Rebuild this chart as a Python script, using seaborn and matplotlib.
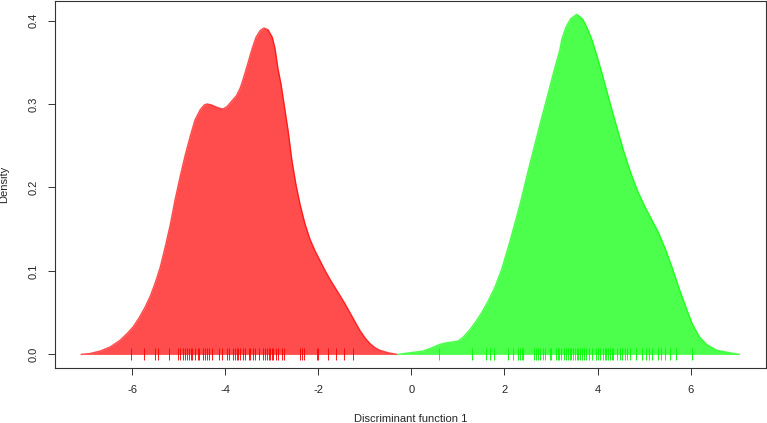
import numpy as np
import matplotlib
matplotlib.use("Agg")
import matplotlib.pyplot as plt
import pandas as pd
import seaborn as sns

# density curves (x, density)
red_x = [-7.10, -6.91, -6.69, -6.47, -6.26, -6.11, -5.98, -5.85, -5.72, -5.61,
         -5.51, -5.40, -5.29, -5.18, -5.08, -4.97, -4.86, -4.75, -4.65, -4.54,
         -4.45, -4.39, -4.30, -4.22, -4.13, -4.05, -3.96, -3.87, -3.76, -3.68,
         -3.62, -3.55, -3.43, -3.34, -3.25, -3.17, -3.08, -2.99, -2.93, -2.87,
         -2.80, -2.74, -2.65, -2.57, -2.48, -2.39, -2.29, -2.18, -2.07, -1.96,
         -1.86, -1.75, -1.64, -1.54, -1.43, -1.32, -1.21, -1.11, -1.00, -0.89,
         -0.78, -0.68, -0.50, -0.31]
red_y = [0.000, 0.001, 0.004, 0.009, 0.017, 0.025, 0.033, 0.044, 0.057, 0.070,
         0.085, 0.104, 0.129, 0.156, 0.185, 0.213, 0.239, 0.262, 0.281, 0.293,
         0.299, 0.300, 0.299, 0.297, 0.295, 0.294, 0.297, 0.303, 0.310, 0.319,
         0.329, 0.342, 0.365, 0.380, 0.388, 0.391, 0.389, 0.380, 0.366, 0.343,
         0.323, 0.301, 0.268, 0.233, 0.203, 0.179, 0.157, 0.138, 0.124, 0.112,
         0.101, 0.090, 0.080, 0.071, 0.061, 0.050, 0.039, 0.029, 0.020, 0.013,
         0.008, 0.005, 0.002, 0.000]

green_x = [-0.29, -0.03, 0.25, 0.44, 0.61, 0.76, 0.89, 1.00, 1.08, 1.17,
           1.26, 1.38, 1.51, 1.64, 1.79, 1.94, 2.11, 2.33, 2.54, 2.76,
           2.93, 3.08, 3.19, 3.23, 3.32, 3.42, 3.55, 3.68, 3.77, 3.88,
           3.98, 4.11, 4.26, 4.41, 4.56, 4.71, 4.86, 5.01, 5.16, 5.31,
           5.46, 5.61, 5.76, 5.91, 6.04, 6.19, 6.34, 6.56, 6.84, 7.05]
green_y = [0.000, 0.002, 0.004, 0.008, 0.012, 0.014, 0.015, 0.016, 0.019, 0.024,
           0.030, 0.039, 0.050, 0.063, 0.080, 0.102, 0.134, 0.179, 0.227, 0.275,
           0.311, 0.343, 0.365, 0.377, 0.392, 0.402, 0.4075, 0.402, 0.392, 0.377,
           0.359, 0.334, 0.303, 0.273, 0.244, 0.218, 0.196, 0.178, 0.162, 0.146,
           0.126, 0.103, 0.078, 0.055, 0.036, 0.021, 0.012, 0.005, 0.002, 0.000]

# individual scores (rug)
red_rug = [-6.03, -5.74, -5.51, -5.44, -5.20, -5.01, -4.97, -4.91, -4.86, -4.83,
           -4.77, -4.74, -4.72, -4.65, -4.59, -4.56, -4.47, -4.43, -4.40, -4.34,
           -4.29, -4.13, -4.07, -3.97, -3.91, -3.83, -3.79, -3.75, -3.72, -3.68,
           -3.63, -3.57, -3.50, -3.47, -3.41, -3.36, -3.27, -3.20, -3.15, -3.11,
           -3.07, -3.04, -3.00, -2.97, -2.92, -2.86, -2.79, -2.74, -2.39, -2.36,
           -2.31, -2.04, -2.00, -1.79, -1.63, -1.44, -1.25]
green_rug = [0.60, 1.31, 1.61, 1.69, 1.78, 2.08, 2.19, 2.29, 2.33, 2.37,
             2.40, 2.63, 2.67, 2.72, 2.77, 2.82, 2.87, 2.97, 3.01, 3.10,
             3.15, 3.17, 3.22, 3.27, 3.32, 3.37, 3.40, 3.44, 3.47, 3.51,
             3.55, 3.58, 3.62, 3.67, 3.71, 3.75, 3.81, 3.87, 3.96, 4.01,
             4.06, 4.12, 4.15, 4.19, 4.22, 4.26, 4.30, 4.33, 4.41, 4.48,
             4.53, 4.58, 4.63, 4.69, 4.82, 4.96, 5.05, 5.11, 5.18, 5.30,
             5.37, 5.44, 5.55, 5.68, 6.02]

groups = {"red": (red_x, red_y, red_rug, "#ff0000"),
          "green": (green_x, green_y, green_rug, "#00ff00")}

sns.set_style("ticks")
plt.rcParams["font.family"] = ["Liberation Sans", "DejaVu Sans"]
plt.rcParams["axes.unicode_minus"] = False

fig = plt.figure(figsize=(7.67, 4.23), dpi=100)
ax = fig.add_axes([0.0717, 0.130, 0.927, 0.8676])

for name, (cx, cy, rug, col) in groups.items():
    curve = pd.DataFrame({"x": cx, "y": cy})
    ax.fill_between(curve["x"], curve["y"], 0, color=col, alpha=0.7, lw=0)
    sns.lineplot(data=curve, x="x", y="y", ax=ax, color=col, alpha=0.7,
                 lw=1, sort=False, estimator=None)
    pts = pd.DataFrame({"x": rug, "y": np.zeros(len(rug))})
    sns.scatterplot(data=pts, x="x", y="y", ax=ax, marker="|", color=col,
                    s=64, linewidth=0.7, alpha=0.9)

ax.set_xlim(-7.66, 7.62)
ax.set_ylim(-0.0163, 0.4234)
ax.set_xticks([-6, -4, -2, 0, 2, 4, 6])
ax.set_yticks([0.0, 0.1, 0.2, 0.3, 0.4])
ax.set_yticklabels(["0.0", "0.1", "0.2", "0.3", "0.4"], rotation=90, va="center")
ax.tick_params(axis="both", length=5, width=0.7, labelsize=8, pad=7, color="#333333")
ax.set_xlabel("Discriminant function 1", fontsize=8, labelpad=14)
ax.set_ylabel("Density", fontsize=8, labelpad=14)
for sp in ax.spines.values():
    sp.set_visible(True)
    sp.set_linewidth(0.8)
    sp.set_color("#333333")

fig.savefig("out.png", dpi=100)
